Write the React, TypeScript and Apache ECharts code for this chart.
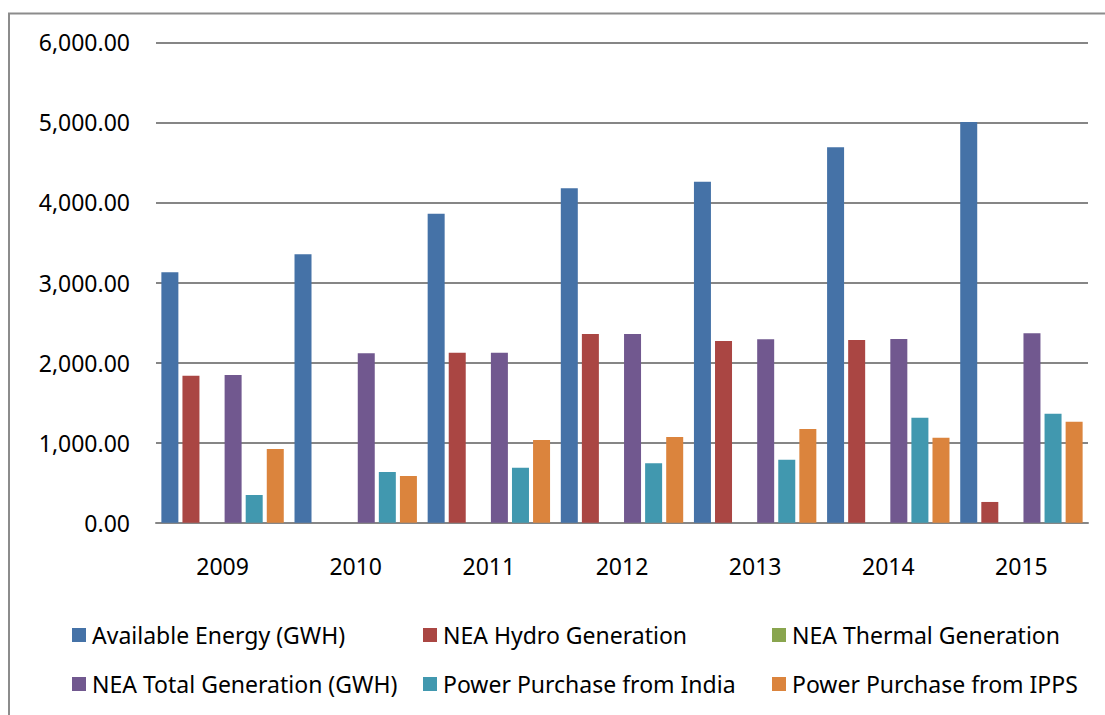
import React, { useEffect, useRef } from "react";
import * as echarts from "echarts";

const years = ["2009", "2010", "2011", "2012", "2013", "2014", "2015"];
const availableEnergy = [3128, 3352, 3860, 4177, 4259, 4689, 5005];
const neaHydro = [1836, 0, 2123, 2357, 2269, 2282, 259];
const neaThermal = [0, 0, 0, 0, 0, 0, 0];
const neaTotal = [1845, 2116, 2123, 2357, 2291, 2294, 2366];
const purchaseIndia = [346, 633, 687, 742, 787, 1311, 1361];
const purchaseIPPS = [920, 583, 1033, 1070, 1170, 1062, 1261];

const seriesNames = [
  "Available Energy (GWH)",
  "NEA Hydro Generation",
  "NEA Thermal Generation",
  "NEA Total Generation (GWH)",
  "Power Purchase from India",
  "Power Purchase from IPPS",
];
const seriesData = [availableEnergy, neaHydro, neaThermal, neaTotal, purchaseIndia, purchaseIPPS];
const colors = ["#4572A7", "#AA4643", "#89A54E", "#71588F", "#4198AF", "#DB843D"];

const FONT = "'Noto Sans', sans-serif";

export default function App() {
  const ref = useRef<HTMLDivElement>(null);
  useEffect(() => {
    if (!ref.current) return;
    const chart = echarts.init(ref.current, null, { renderer: "svg" });
    const legendPos = [
      [72, 623],
      [423, 623],
      [772, 623],
      [72, 672],
      [423, 672],
      [772, 672],
    ];
    chart.setOption({
      animation: false,
      color: colors,
      grid: { left: 156, right: 17, top: 42.3, bottom: 715 - 522.7, containLabel: false },
      legend: seriesNames.map((n, i) => ({
        data: [n],
        left: legendPos[i][0],
        top: legendPos[i][1],
        padding: 0,
        itemWidth: 14,
        itemHeight: 14,
        itemGap: 0,
        icon: "rect",
        selectedMode: false,
        textStyle: { fontFamily: FONT, fontSize: 23, color: "#000", lineHeight: 24, padding: [0, 0, 0, 1] },
      })),
      xAxis: {
        type: "category",
        data: years,
        axisLine: { show: true, lineStyle: { color: "#868686", width: 2 } },
        axisTick: { show: false },
        axisLabel: { fontFamily: FONT, fontSize: 23, color: "#000", margin: 32 },
      },
      yAxis: {
        type: "value",
        min: 0,
        max: 6000,
        interval: 1000,
        axisLine: { show: false },
        axisTick: { show: false },
        splitLine: { show: true, lineStyle: { color: "#868686", width: 2 } },
        axisLabel: {
          fontFamily: FONT,
          fontSize: 23,
          color: "#000",
          margin: 26,
          formatter: (v: number) =>
            v.toLocaleString("en-US", { minimumFractionDigits: 2, maximumFractionDigits: 2 }),
        },
      },
      series: seriesNames.map((n, i) => ({
        name: n,
        type: "bar",
        data: seriesData[i],
        barWidth: 17,
        barGap: "24%",
        itemStyle: { color: colors[i], borderWidth: 0 },
      })),
      graphic: [
        {
          type: "rect",
          shape: { x: 9, y: 13.5, width: 1200, height: 800 },
          style: { fill: "none", stroke: "#8c8c8c", lineWidth: 2 },
          silent: true,
        },
      ],
    });
    return () => chart.dispose();
  }, []);
  return (
    <div
      ref={ref}
      style={{ position: "fixed", left: 0, top: 0, width: 1105, height: 715, background: "#fff" }}
    />
  );
}
